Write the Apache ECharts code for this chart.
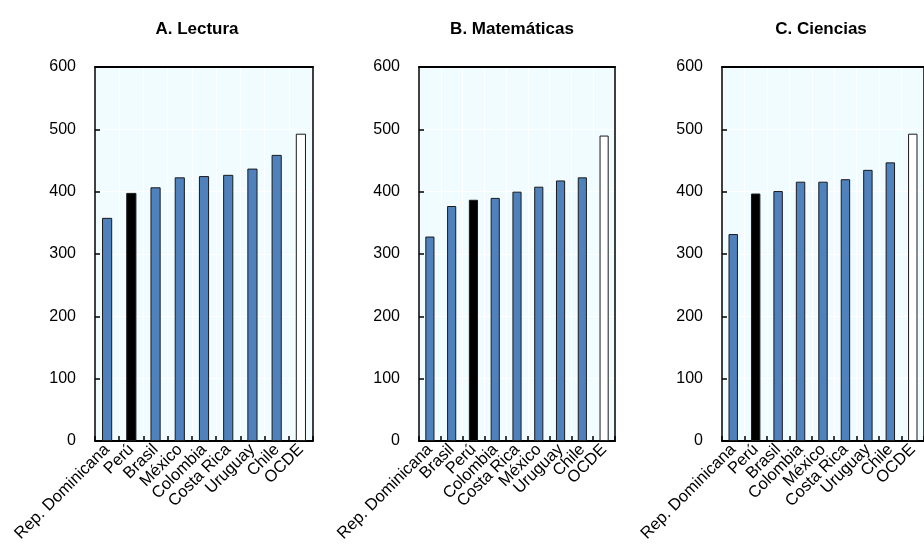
<!DOCTYPE html>
<html>
<head>
<meta charset="utf-8">
<script src="https://cdn.jsdelivr.net/npm/echarts@6/dist/echarts.min.js"></script>
<style>
html,body{margin:0;padding:0;background:#fff;}
#chart{width:924px;height:547px;}
</style>
</head>
<body>
<div id="chart"></div>
<script>
var titles = ["A. Lectura", "B. Matemáticas", "C. Ciencias"];
var categoriesA = ["Rep. Dominicana", "Perú", "Brasil", "México", "Colombia", "Costa Rica", "Uruguay", "Chile", "OCDE"];
var valuesA = [358, 398, 407, 423, 425, 427, 437, 459, 493];
var categoriesB = ["Rep. Dominicana", "Brasil", "Perú", "Colombia", "Costa Rica", "México", "Uruguay", "Chile", "OCDE"];
var valuesB = [328, 377, 387, 390, 400, 408, 418, 423, 490];
var categoriesC = ["Rep. Dominicana", "Perú", "Brasil", "Colombia", "México", "Costa Rica", "Uruguay", "Chile", "OCDE"];
var valuesC = [332, 397, 401, 416, 416, 420, 435, 447, 493];
var yTicks = [0, 100, 200, 300, 400, 500, 600];

var panels = [
  {cats: categoriesA, vals: valuesA, left: 95, width: 218},
  {cats: categoriesB, vals: valuesB, left: 419, width: 196},
  {cats: categoriesC, vals: valuesC, left: 722, width: 210}
];

function colorFor(name) {
  if (name === "Perú") return "#000000";
  if (name === "OCDE") return "#ffffff";
  return "#4F81BD";
}

var FONT = "Liberation Sans";
var option = {
  animation: false,
  title: [], grid: [], xAxis: [], yAxis: [], series: []
};

var titleCenters = [198, 513, 822];

panels.forEach(function (p, i) {
  option.title.push({
    text: titles[i],
    left: titleCenters[i] - 6,
    top: 16,
    textAlign: "center",
    textStyle: {fontFamily: FONT, fontSize: 17, fontWeight: "bold", color: "#000"}
  });
  option.grid.push({
    left: p.left, top: 67, width: p.width, height: 374,
    show: true, backgroundColor: "#F0FCFF", borderColor: "#000", borderWidth: 0,
    containLabel: false
  });
  option.xAxis.push({
    type: "category", gridIndex: i, data: p.cats, position: "bottom",
    axisLine: {show: true, onZero: false, lineStyle: {color: "#000", width: 2}},
    axisTick: {show: true, inside: true, length: 5, lineStyle: {color: "#000", width: 1.5}},
    splitLine: {show: true, lineStyle: {color: "#ffffff", width: 1}},
    axisLabel: {rotate: 45, interval: 0, fontFamily: FONT, fontSize: 16.5, color: "#000", margin: 6}
  });
  option.xAxis.push({
    type: "category", gridIndex: i, data: p.cats, position: "top", z: 5,
    axisLine: {show: true, onZero: false, lineStyle: {color: "#000", width: 2}},
    axisTick: {show: false}, axisLabel: {show: false}, splitLine: {show: false}
  });
  option.yAxis.push({
    type: "value", gridIndex: i, min: yTicks[0], max: yTicks[yTicks.length - 1], interval: 100,
    position: "left",
    axisLine: {show: true, onZero: false, lineStyle: {color: "#000", width: 1.5}},
    axisTick: {show: true, inside: true, length: 5, lineStyle: {color: "#000", width: 1.5}},
    splitLine: {show: true, lineStyle: {color: "#ffffff", width: 1}},
    axisLabel: {fontFamily: FONT, fontSize: 16, color: "#000", margin: 19}
  });
  option.yAxis.push({
    type: "value", gridIndex: i, min: yTicks[0], max: yTicks[yTicks.length - 1], interval: 100,
    position: "right", z: 5,
    axisLine: {show: true, onZero: false, lineStyle: {color: "#000", width: 1.5}},
    axisTick: {show: false}, axisLabel: {show: false}, splitLine: {show: false}
  });
  option.series.push({
    type: "bar", xAxisIndex: 2 * i, yAxisIndex: 2 * i, barWidth: "42%",
    data: p.vals.map(function (v, k) {
      return {value: v, itemStyle: {color: colorFor(p.cats[k]), borderColor: "#1a1a1a", borderWidth: 1}};
    })
  });
});

var chart = echarts.init(document.getElementById("chart"), null, {renderer: "canvas"});
chart.setOption(option);
</script>
</body>
</html>
